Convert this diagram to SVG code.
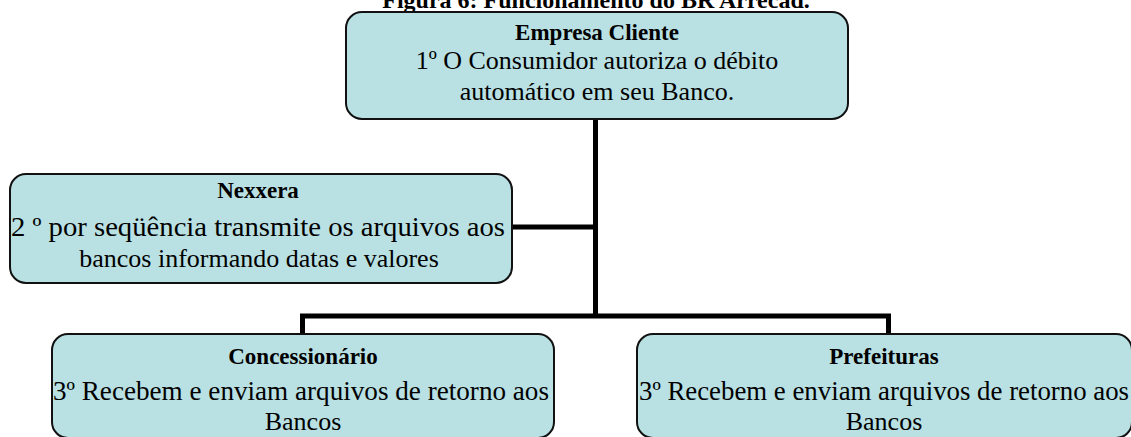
<svg xmlns="http://www.w3.org/2000/svg" width="1131" height="437" viewBox="0 0 1131 437">
<style>
.box{fill:#b9e0e3;stroke:#111;stroke-width:2}
.t{font-family:"Liberation Serif","Times New Roman",serif;font-size:26px;fill:#000;text-anchor:middle}
.b{font-weight:bold;font-size:23px}
.w{font-size:27px}
.c{stroke:#000;stroke-width:5;fill:none}
</style>
<rect width="1131" height="437" fill="#fff"/>
<text class="t b" x="596" y="8" style="font-size:24px">Figura 6: Funcionamento do BR Arrecad.</text>
<g id="connectors">
<path class="c" d="M595.5 119 V316 M512 227 H595.5 M302.5 334 V316 H888.5 V334"/>
</g>
<g id="empresa">
<rect class="box" x="346" y="12" width="502" height="107" rx="16"/>
<text class="t b" x="597" y="40">Empresa Cliente</text>
<text class="t" x="597" y="69">1º O Consumidor autoriza o débito</text>
<text class="t" x="597" y="100">automático em seu Banco.</text>
</g>
<g id="nexxera">
<rect class="box" x="10" y="174" width="502" height="109" rx="16"/>
<text class="t b" x="258" y="198">Nexxera</text>
<text class="t w" x="258" y="236" textLength="494" lengthAdjust="spacingAndGlyphs">2 º por seqüência transmite os arquivos aos</text>
<text class="t" x="259" y="267">bancos informando datas e valores</text>
</g>
<g id="concessionario">
<rect class="box" x="52" y="334" width="502" height="104" rx="16"/>
<text class="t b" x="303" y="364">Concessionário</text>
<text class="t w" x="301" y="400" textLength="496" lengthAdjust="spacingAndGlyphs">3º Recebem e enviam arquivos de retorno aos</text>
<text class="t" x="303" y="430">Bancos</text>
</g>
<g id="prefeituras">
<rect class="box" x="637" y="334" width="495" height="104" rx="16"/>
<text class="t b" x="884" y="364">Prefeituras</text>
<text class="t w" x="884" y="400" textLength="490" lengthAdjust="spacingAndGlyphs">3º Recebem e enviam arquivos de retorno aos</text>
<text class="t" x="884" y="430">Bancos</text>
</g>
</svg>
